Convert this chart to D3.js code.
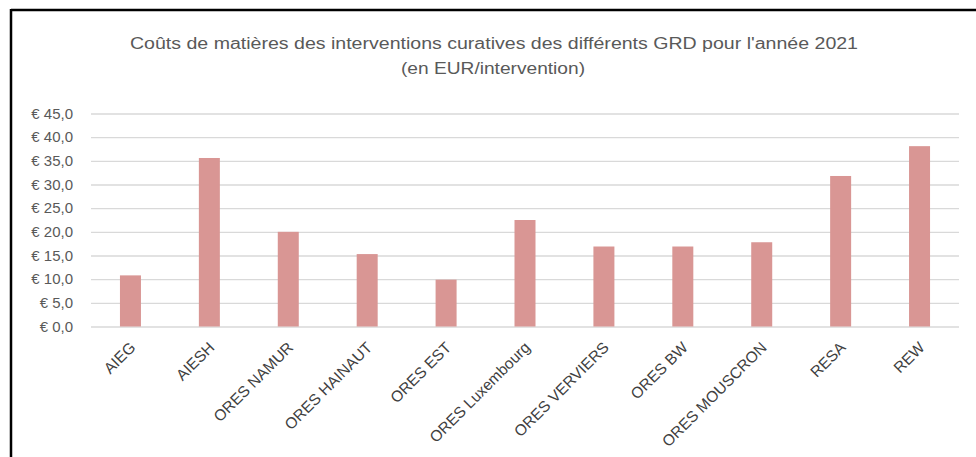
<!doctype html>
<html>
  <head>
    <meta charset="utf-8">
    <script src="https://d3js.org/d3.v7.min.js"></script>
    <style>
      body { margin: 0; background: #fff; }
      svg { display: block; font-family: "Liberation Sans", Arial, sans-serif; }
    </style>
  </head>

  <body>
    <svg class="chart" width=976 height=457></svg>

    <script>
      // data
      var grd = ["AIEG", "AIESH", "ORES NAMUR", "ORES HAINAUT", "ORES EST", "ORES Luxembourg",
                 "ORES VERVIERS", "ORES BW", "ORES MOUSCRON", "RESA", "REW"];
      var cout = [10.8, 35.6, 20.0, 15.3, 9.9, 22.5, 16.9, 16.9, 17.8, 31.8, 38.1];
      var yTicks = [0, 5, 10, 15, 20, 25, 30, 35, 40, 45];
      var titleLines = ["Coûts de matières des interventions curatives des différents GRD pour l'année 2021",
                        "(en EUR/intervention)"];

      var data = grd.map(function(d, i){ return {name: d, value: cout[i]}; });

      var svg = d3.select("svg"),
          plotLeft = 91, plotRight = 959,
          plotTop = 113.5, plotBottom = 326.5;

      // frame (top and left edges only, as cropped in the reference)
      svg.append("line").attr("x1", 11).attr("x2", 976).attr("y1", 10).attr("y2", 10)
        .attr("stroke", "#000").attr("stroke-width", 2.5);
      svg.append("line").attr("x1", 11).attr("x2", 11).attr("y1", 9).attr("y2", 457)
        .attr("stroke", "#000").attr("stroke-width", 2.5);

      // title
      svg.append("text").attr("x", 494).attr("y", 49).attr("text-anchor", "middle")
        .attr("fill", "#595959").style("font-size", "16px")
        .attr("textLength", 728).attr("lengthAdjust", "spacingAndGlyphs")
        .text(titleLines[0]);
      svg.append("text").attr("x", 493).attr("y", 74).attr("text-anchor", "middle")
        .attr("fill", "#595959").style("font-size", "16px")
        .attr("textLength", 184).attr("lengthAdjust", "spacingAndGlyphs")
        .text(titleLines[1]);

      var xScale = d3.scaleBand().domain(grd).range([plotLeft, plotRight]);
      var yScale = d3.scaleLinear().domain([0, 45]).range([plotBottom, plotTop]);

      // gridlines + y labels
      var yAxis = svg.append("g")
        .attr("transform", "translate(" + plotLeft + ",0)")
        .call(d3.axisLeft(yScale).tickValues(yTicks)
              .tickSize(-(plotRight - plotLeft)).tickPadding(18)
              .tickFormat(function(d){ return "€ " + d3.format(".1f")(d).replace(".", ","); }));
      yAxis.select(".domain").remove();
      yAxis.selectAll("line").attr("stroke", "#d9d9d9").attr("stroke-width", 1.3);
      yAxis.selectAll("text").attr("fill", "#595959").style("font-size", "15px");

      // bars
      var bw = 21;
      svg.selectAll(".bar")
        .data(data)
        .enter().append("rect")
        .attr("class", "bar")
        .attr("x", function(d){ return xScale(d.name) + xScale.bandwidth()/2 - bw/2; })
        .attr("y", function(d){ return yScale(d.value); })
        .attr("width", bw)
        .attr("height", function(d){ return yScale(0) - yScale(d.value); })
        .attr("fill", "#d99694");

      // rotated category labels
      svg.selectAll(".xlab")
        .data(data)
        .enter().append("text")
        .attr("class", "xlab")
        .attr("transform", function(d){
          return "translate(" + (xScale(d.name) + xScale.bandwidth()/2 + 6) + "," + (plotBottom + 22) + ") rotate(-45)";
        })
        .attr("text-anchor", "end")
        .attr("fill", "#404040")
        .style("font-size", "15.5px")
        .text(function(d){ return d.name; });
    </script>
  </body>
</html>
